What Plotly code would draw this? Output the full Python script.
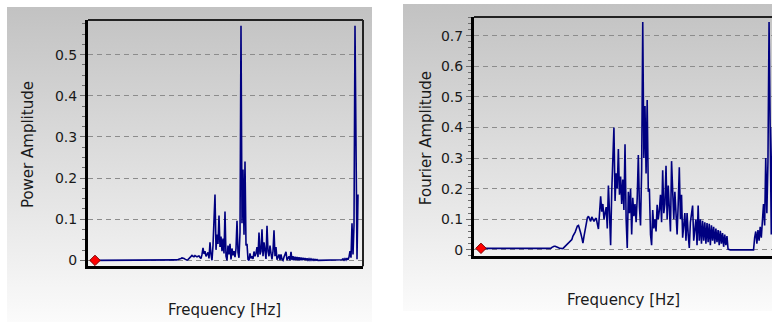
import base64
import plotly.graph_objects as go

# ---------------- data ----------------
FREQ_STEP_HZ = 0.2  # spacing of the spectrum bins

fourier_amplitude = [
    # 0-9
    0.005, 0.005, 0.005, 0.005, 0.005, 0.005, 0.005, 0.005, 0.005, 0.005,
    # 10-19
    0.005, 0.005, 0.005, 0.005, 0.005, 0.005, 0.005, 0.005, 0.005, 0.005,
    # 20-29
    0.005, 0.005, 0.005, 0.005, 0.005, 0.005, 0.005, 0.005, 0.005, 0.005,
    # 30-39
    0.005, 0.005, 0.005, 0.005, 0.005, 0.005, 0.005, 0.005, 0.005, 0.005,
    # 40-49
    0.005, 0.005, 0.005, 0.005, 0.005, 0.005, 0.005, 0.005, 0.005, 0.005,
    # 50-59
    0.005, 0.005, 0.005, 0.005, 0.005, 0.005, 0.005, 0.005, 0.005, 0.005,
    # 60-69
    0.005, 0.005, 0.005, 0.005, 0.008, 0.011, 0.012, 0.012, 0.011, 0.009,
    # 70-79
    0.007, 0.005, 0.004, 0.003, 0.004, 0.008, 0.012, 0.016, 0.019, 0.023,
    # 80-89
    0.027, 0.030, 0.034, 0.045, 0.050, 0.058, 0.068, 0.078, 0.080, 0.070,
    # 90-99
    0.055, 0.040, 0.022, 0.045, 0.070, 0.090, 0.105, 0.110, 0.100, 0.093,
    # 100-109
    0.108, 0.100, 0.093, 0.100, 0.104, 0.085, 0.068, 0.120, 0.175, 0.125,
    # 110-119
    0.150, 0.100, 0.120, 0.140, 0.070, 0.210, 0.120, 0.015, 0.190, 0.300,
    # 120-129
    0.400, 0.160, 0.250, 0.200, 0.330, 0.180, 0.240, 0.150, 0.230, 0.130,
    # 130-139
    0.345, 0.100, 0.006, 0.190, 0.120, 0.200, 0.050, 0.170, 0.110, 0.150,
    # 140-149
    0.090, 0.170, 0.310, 0.140, 0.080, 0.260, 0.745, 0.300, 0.470, 0.250,
    # 150-159
    0.490, 0.190, 0.200, 0.050, 0.015, 0.130, 0.070, 0.100, 0.060, 0.147,
    # 160-169
    0.100, 0.130, 0.180, 0.090, 0.260, 0.120, 0.150, 0.275, 0.100, 0.210,
    # 170-179
    0.120, 0.060, 0.290, 0.150, 0.100, 0.190, 0.130, 0.050, 0.150, 0.270,
    # 180-189
    0.100, 0.180, 0.040, 0.100, 0.120, 0.030, 0.120, 0.050, 0.006, 0.090,
    # 190-199
    0.130, 0.145, 0.030, 0.070, 0.100, 0.015, 0.145, 0.030, 0.100, 0.020,
    # 200-209
    0.095, 0.030, 0.090, 0.020, 0.088, 0.025, 0.085, 0.015, 0.080, 0.030,
    # 210-219
    0.075, 0.020, 0.070, 0.025, 0.065, 0.015, 0.062, 0.020, 0.055, 0.010,
    # 220-229
    0.050, 0.015, 0.045, 0.002, 0.000, 0.000, 0.000, 0.000, 0.000, 0.000,
    # 230-239
    0.000, 0.000, 0.000, 0.000, 0.000, 0.000, 0.000, 0.000, 0.000, 0.000,
    # 240-249
    0.000, 0.000, 0.000, 0.000, 0.000, 0.000, 0.000, 0.040, 0.060, 0.020,
    # 250-259
    0.065, 0.030, 0.075, 0.040, 0.090, 0.150, 0.080, 0.300, 0.120, 0.290,
    # 260-263
    0.745, 0.400, 0.050, 0.400,
]

power_amplitude = [
    # 0-9
    0.0, 0.0, 0.0, 0.0, 0.0, 0.0, 0.0, 0.0, 0.0, 0.0,
    # 10-19
    0.0, 0.0, 0.0, 0.0, 0.0, 0.0, 0.0, 0.0, 0.0, 0.0,
    # 20-29
    0.0, 0.0, 0.0, 0.0, 0.0, 0.0, 0.0, 0.0, 0.0, 0.0,
    # 30-39
    0.0, 0.0, 0.0, 0.0, 0.0, 0.0, 0.0, 0.0, 0.0, 0.0,
    # 40-49
    0.0, 0.0, 0.0, 0.0, 0.0, 0.0, 0.0, 0.0, 0.0, 0.0,
    # 50-59
    0.0, 0.0, 0.0, 0.0, 0.0, 0.0, 0.0, 0.0, 0.0, 0.0,
    # 60-69
    0.0, 0.0, 0.0, 0.0, 0.0, 0.0, 0.0, 0.0, 0.0, 0.0,
    # 70-79
    0.0, 0.0, 0.0, 0.0, 0.0, 0.0001, 0.0001, 0.0003, 0.0004, 0.0005,
    # 80-89
    0.0007, 0.0009, 0.0012, 0.0020, 0.0025, 0.0034, 0.0046, 0.0061, 0.0064, 0.0049,
    # 90-99
    0.0030, 0.0016, 0.0005, 0.0020, 0.0049, 0.0081, 0.0110, 0.0121, 0.0100, 0.0086,
    # 100-109
    0.0117, 0.0100, 0.0086, 0.0100, 0.0108, 0.0072, 0.0046, 0.0144, 0.0306, 0.0156,
    # 110-119
    0.0225, 0.0100, 0.0144, 0.0196, 0.0049, 0.0441, 0.0144, 0.0002, 0.0361, 0.0900,
    # 120-129
    0.1600, 0.0256, 0.0625, 0.0400, 0.1089, 0.0324, 0.0576, 0.0225, 0.0529, 0.0169,
    # 130-139
    0.1190, 0.0100, 0.0000, 0.0361, 0.0144, 0.0400, 0.0025, 0.0289, 0.0121, 0.0225,
    # 140-149
    0.0081, 0.0289, 0.0961, 0.0196, 0.0064, 0.0676, 0.5700, 0.0900, 0.2209, 0.0625,
    # 150-159
    0.2401, 0.0361, 0.0400, 0.0025, 0.0002, 0.0169, 0.0049, 0.0100, 0.0036, 0.0216,
    # 160-169
    0.0100, 0.0169, 0.0324, 0.0081, 0.0676, 0.0144, 0.0225, 0.0756, 0.0100, 0.0441,
    # 170-179
    0.0144, 0.0036, 0.0841, 0.0225, 0.0100, 0.0361, 0.0169, 0.0025, 0.0225, 0.0729,
    # 180-189
    0.0100, 0.0324, 0.0016, 0.0100, 0.0144, 0.0009, 0.0144, 0.0025, 0.0000, 0.0081,
    # 190-199
    0.0169, 0.0210, 0.0009, 0.0049, 0.0100, 0.0002, 0.0210, 0.0009, 0.0100, 0.0004,
    # 200-209
    0.0090, 0.0009, 0.0081, 0.0004, 0.0077, 0.0006, 0.0072, 0.0002, 0.0064, 0.0009,
    # 210-219
    0.0056, 0.0004, 0.0049, 0.0006, 0.0042, 0.0002, 0.0038, 0.0004, 0.0030, 0.0001,
    # 220-229
    0.0025, 0.0002, 0.0020, 0.0, 0.0, 0.0, 0.0, 0.0, 0.0, 0.0,
    # 230-239
    0.0, 0.0, 0.0, 0.0, 0.0, 0.0, 0.0, 0.0, 0.0, 0.0,
    # 240-249
    0.0, 0.0, 0.0, 0.0, 0.0, 0.0, 0.0, 0.0016, 0.0036, 0.0004,
    # 250-259
    0.0042, 0.0009, 0.0056, 0.0016, 0.0081, 0.0225, 0.0064, 0.0900, 0.0144, 0.0841,
    # 260-263
    0.5700, 0.1600, 0.0025, 0.1600,
]

assert len(fourier_amplitude) == len(power_amplitude)
frequency_hz = [round(i * FREQ_STEP_HZ, 1) for i in range(len(power_amplitude))]

power_ticks = [0, 0.1, 0.2, 0.3, 0.4, 0.5]
fourier_ticks = [0, 0.1, 0.2, 0.3, 0.4, 0.5, 0.6, 0.7]

# ---------------- styling ----------------
W, H = 772, 324
FONT = "DejaVu Sans"
NAVY = "#000080"
GRID = "#8c8c8c"
LINE_W = 1.6


def px_x(p):
    return p / W


def px_y(p):
    return 1 - p / H


svg = (
    '<svg xmlns="http://www.w3.org/2000/svg" width="10" height="100" '
    'viewBox="0 0 10 100" preserveAspectRatio="none">'
    '<defs><linearGradient id="g" x1="0" y1="0" x2="0" y2="1">'
    '<stop offset="0" stop-color="#c2c2c2"/>'
    '<stop offset="1" stop-color="#fbfbfb"/>'
    '</linearGradient></defs>'
    '<rect x="0" y="0" width="10" height="100" fill="url(#g)"/></svg>'
)
grad_src = "data:image/svg+xml;base64," + base64.b64encode(svg.encode()).decode()

fig = go.Figure()

# left: power spectrum
fig.add_trace(go.Scatter(x=frequency_hz, y=power_amplitude, mode="lines",
                         line=dict(color=NAVY, width=LINE_W), xaxis="x", yaxis="y",
                         showlegend=False, hoverinfo="skip"))
fig.add_trace(go.Scatter(x=frequency_hz[:1], y=power_amplitude[:1], mode="markers",
                         marker=dict(symbol="diamond", size=8, color="#ff0000",
                                     line=dict(color="#7a0000", width=1)),
                         xaxis="x", yaxis="y", showlegend=False, cliponaxis=False))
# right: fourier spectrum
fig.add_trace(go.Scatter(x=frequency_hz, y=fourier_amplitude, mode="lines",
                         line=dict(color=NAVY, width=LINE_W), xaxis="x2", yaxis="y2",
                         showlegend=False, hoverinfo="skip"))
fig.add_trace(go.Scatter(x=frequency_hz[:1], y=fourier_amplitude[:1], mode="markers",
                         marker=dict(symbol="diamond", size=8, color="#ff0000",
                                     line=dict(color="#7a0000", width=1)),
                         xaxis="x2", yaxis="y2", showlegend=False, cliponaxis=False))

xcommon = dict(showticklabels=False, ticks="", showgrid=False, zeroline=False,
               showline=True, linewidth=3, linecolor="#000000", fixedrange=True)
ycommon = dict(showgrid=True, gridcolor=GRID, gridwidth=1, griddash="5px,4px",
               zeroline=False, showline=True, linewidth=3, linecolor="#000000",
               ticks="outside", ticklen=5, tickwidth=1, tickcolor="#6e6e6e",
               tickfont=dict(family=FONT, size=14, color="#1a1a1a"),
               tickmode="array", fixedrange=True)

fig.update_layout(
    width=W, height=H, autosize=False,
    margin=dict(l=0, r=0, t=0, b=0, pad=0),
    paper_bgcolor="#ffffff", plot_bgcolor="rgba(0,0,0,0)",
    font=dict(family=FONT, size=14, color="#1a1a1a"),
    xaxis=dict(domain=[px_x(88), px_x(363)], range=[-1.4, 53.6], anchor="y", **xcommon),
    yaxis=dict(domain=[px_y(268), px_y(20)], range=[-0.0145, 0.5845], anchor="x",
               tickvals=power_ticks, ticktext=[f"{v:g}" for v in power_ticks],
               minor=dict(ticks="outside", ticklen=3, dtick=0.025, tick0=0,
                          tickcolor="#6e6e6e", showgrid=False),
               **ycommon),
    xaxis2=dict(domain=[px_x(474), 1.0], range=[-1.26, 52.53], anchor="y2", **xcommon),
    yaxis2=dict(domain=[px_y(258), px_y(17)], range=[-0.0214, 0.7615], anchor="x2",
                tickvals=fourier_ticks, ticktext=[f"{v:g}" for v in fourier_ticks],
                minor=dict(ticks="outside", ticklen=3, dtick=0.02, tick0=0,
                           tickcolor="#6e6e6e", showgrid=False),
                **ycommon),
    images=[
        dict(source=grad_src, xref="paper", yref="paper", x=px_x(7), y=px_y(7),
             sizex=365 / W, sizey=317 / H, xanchor="left", yanchor="top",
             sizing="stretch", layer="below"),
        dict(source=grad_src, xref="paper", yref="paper", x=px_x(403), y=px_y(4),
             sizex=(W - 403) / W, sizey=309 / H, xanchor="left", yanchor="top",
             sizing="stretch", layer="below"),
    ],
    shapes=[
        dict(type="line", xref="x domain", yref="y domain", x0=0, x1=1, y0=1, y1=1,
             line=dict(color="#222222", width=2)),
        dict(type="line", xref="x domain", yref="y domain", x0=1, x1=1, y0=0, y1=1,
             line=dict(color="#222222", width=2)),
        dict(type="line", xref="x2 domain", yref="y2 domain", x0=0, x1=1, y0=1, y1=1,
             line=dict(color="#222222", width=2)),
    ],
    annotations=[
        dict(text="Power Amplitude", textangle=-90, xref="paper", yref="paper",
             x=px_x(28), y=px_y(146), showarrow=False, xanchor="center", yanchor="middle",
             font=dict(family=FONT, size=15, color="#1a1a1a")),
        dict(text="Frequency [Hz]", xref="paper", yref="paper",
             x=px_x(225), y=px_y(312), showarrow=False, xanchor="center", yanchor="middle",
             font=dict(family=FONT, size=15, color="#1a1a1a")),
        dict(text="Fourier Amplitude", textangle=-90, xref="paper", yref="paper",
             x=px_x(426), y=px_y(139), showarrow=False, xanchor="center", yanchor="middle",
             font=dict(family=FONT, size=15, color="#1a1a1a")),
        dict(text="Frequency [Hz]", xref="paper", yref="paper",
             x=px_x(623), y=px_y(302), showarrow=False, xanchor="center", yanchor="middle",
             font=dict(family=FONT, size=15, color="#1a1a1a")),
    ],
)

fig.write_html("out.html", config={"displayModeBar": False, "staticPlot": True},
               post_script="document.body.style.margin='0';document.body.style.overflow='hidden';")
